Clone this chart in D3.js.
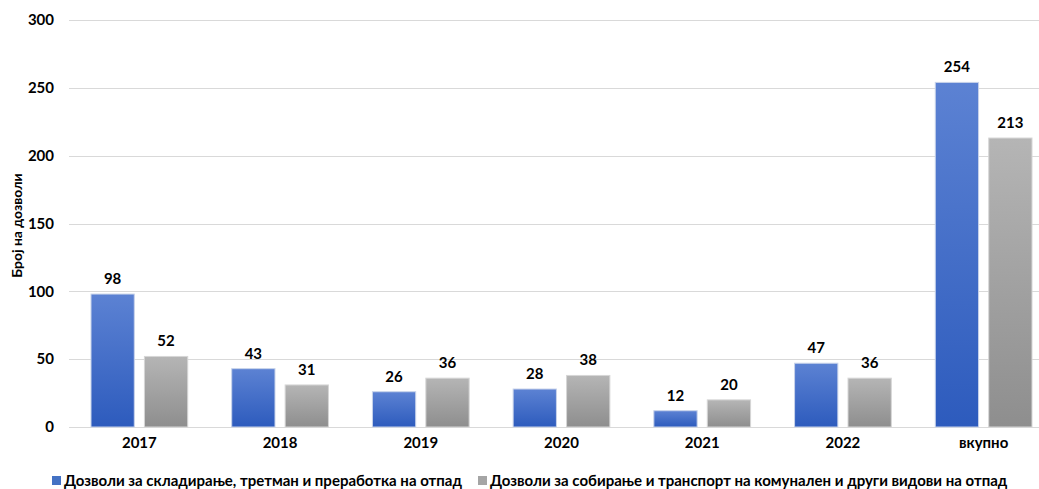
<!DOCTYPE html>
<html>
<head>
<meta charset="utf-8">
<script src="https://cdn.jsdelivr.net/npm/d3@7"></script>
<style>
  body { margin: 0; background: #fff; }
  text { font-family: Lato, "Open Sans", "Liberation Sans", sans-serif; font-weight: bold; fill: #000; }
</style>
</head>
<body>
<script>
const width = 1039;
const height = 489;

// Податоци
const categories = ["2017", "2018", "2019", "2020", "2021", "2022", "вкупно"];
const storageValues = [98, 43, 26, 28, 12, 47, 254];
const transportValues = [52, 31, 36, 38, 20, 36, 213];
const seriesNames = [
    "Дозволи за складирање, третман и преработка на отпад",
    "Дозволи за собирање и транспорт на комунален и други видови на отпад"
];
const yTicks = [0, 50, 100, 150, 200, 250, 300];

const margin = { left: 69, right: -15, top: 20, bottom: 62 };

const svg = d3.select("body").append("svg")
    .attr("width", width)
    .attr("height", height);

const defs = svg.append("defs");
const grads = [
    { id: "gBlue", top: "#5c82d3", bottom: "#2d5bbd" },
    { id: "gGray", top: "#b5b5b5", bottom: "#8e8e8e" }
];
grads.forEach(g => {
    const lg = defs.append("linearGradient").attr("id", g.id)
        .attr("x1", 0).attr("y1", 0).attr("x2", 0).attr("y2", 1);
    lg.append("stop").attr("offset", "0%").attr("stop-color", g.top);
    lg.append("stop").attr("offset", "100%").attr("stop-color", g.bottom);
});

const x = d3.scaleBand()
    .domain(categories)
    .range([margin.left, width - margin.right])
    .paddingInner(0)
    .paddingOuter(0);

const x1 = d3.scaleBand()
    .domain([0, 1])
    .range([22, x.bandwidth() - 22])
    .paddingInner(0.19);

const y = d3.scaleLinear()
    .domain([0, 300])
    .range([height - margin.bottom, margin.top]);

// Мрежа
svg.append("g")
    .selectAll("line")
    .data(yTicks)
    .enter().append("line")
    .attr("x1", margin.left)
    .attr("x2", width)
    .attr("y1", d => Math.round(y(d)) + 0.5)
    .attr("y2", d => Math.round(y(d)) + 0.5)
    .attr("stroke", "#d9d9d9")
    .attr("stroke-width", 1);

// Y оска
const yAxis = svg.append("g")
    .attr("transform", `translate(${margin.left},0)`)
    .call(d3.axisLeft(y).tickValues(yTicks).tickSize(0).tickPadding(15));
yAxis.select(".domain").remove();
yAxis.selectAll("text").style("font-size", "15px").style("font-family", null);

svg.append("text")
    .attr("transform", `translate(22,${(y(0) + y(300)) / 2 + 2}) rotate(-90)`)
    .attr("text-anchor", "middle")
    .style("font-size", "14px")
    .text("Број на дозволи");

// X оска
const xAxis = svg.append("g")
    .attr("transform", `translate(0,${y(0)})`)
    .call(d3.axisBottom(x).tickSize(0).tickPadding(10));
xAxis.select(".domain").remove();
xAxis.selectAll("text").style("font-size", "15px").style("font-family", null);

// Столбови
const series = [storageValues, transportValues];
const fills = ["url(#gBlue)", "url(#gGray)"];
const edges = ["#c8d3ea", "#d6d6d6"];

series.forEach((vals, si) => {
    const g = svg.append("g");
    g.selectAll("rect")
        .data(vals)
        .enter().append("rect")
        .attr("x", (d, i) => x(categories[i]) + x1(si))
        .attr("y", d => y(d))
        .attr("width", x1.bandwidth())
        .attr("height", d => y(0) - y(d))
        .attr("fill", fills[si])
        .attr("stroke", edges[si])
        .attr("stroke-width", 1);

    g.selectAll("text")
        .data(vals)
        .enter().append("text")
        .attr("x", (d, i) => x(categories[i]) + x1(si) + x1.bandwidth() / 2)
        .attr("y", d => y(d) - 10)
        .attr("text-anchor", "middle")
        .style("font-size", "15px")
        .text(d => d);
});

// Легенда
const legendItems = [
    { x: 52, color: "#4472c4", name: seriesNames[0] },
    { x: 478, color: "#a5a5a5", name: seriesNames[1] }
];
const legend = svg.append("g");
legendItems.forEach(it => {
    legend.append("rect")
        .attr("x", it.x).attr("y", 476)
        .attr("width", 9).attr("height", 9)
        .attr("fill", it.color);
    legend.append("text")
        .attr("x", it.x + 12).attr("y", 486)
        .style("font-size", "15px")
        .text(it.name);
});
</script>
</body>
</html>
